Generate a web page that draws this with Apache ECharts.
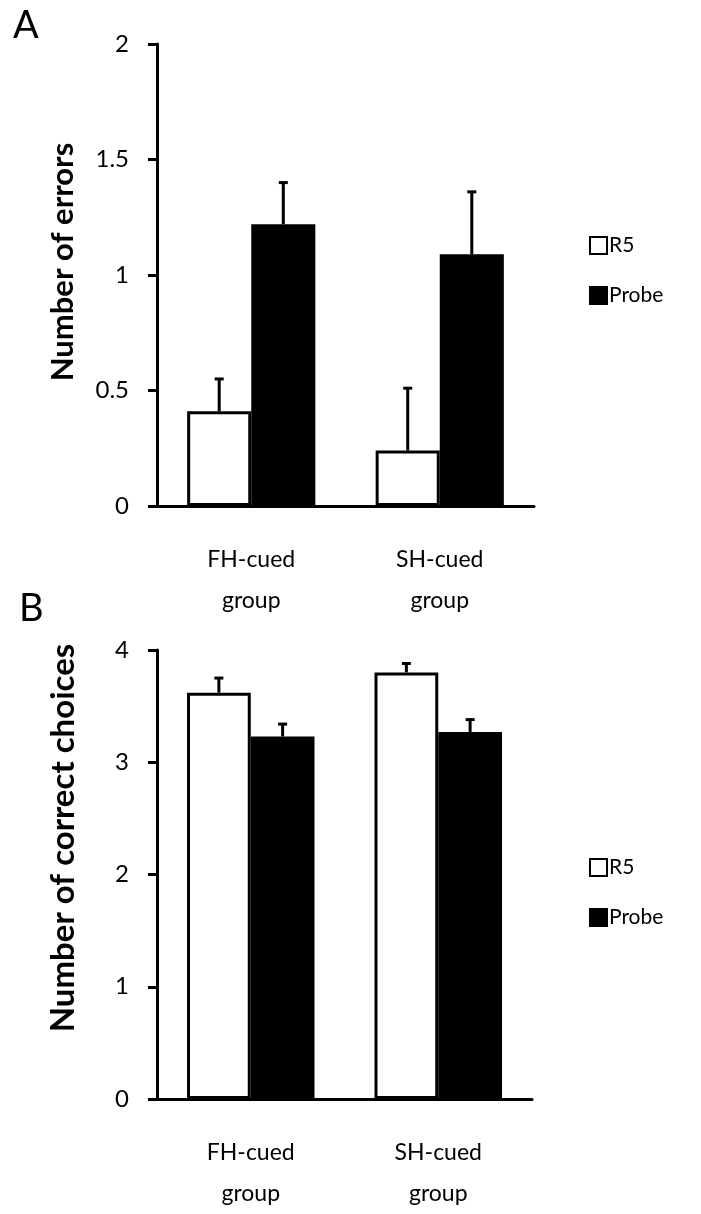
<!DOCTYPE html>
<html>
<head>
<meta charset="utf-8">
<script src="https://cdn.jsdelivr.net/npm/echarts@6/dist/echarts.min.js"></script>
<style>
html,body{margin:0;padding:0;background:#fff;}
#c{width:701px;height:1214px;}
</style>
</head>
<body>
<div id="c"></div>
<script>
const categories = ['FH-cued\ngroup', 'SH-cued\ngroup'];
const seriesNames = ['R5', 'Probe'];

const errorsR5 = [0.41, 0.24];
const errorsR5Err = [0.14, 0.27];
const errorsProbe = [1.22, 1.09];
const errorsProbeErr = [0.18, 0.27];

const correctR5 = [3.62, 3.80];
const correctR5Err = [0.13, 0.08];
const correctProbe = [3.23, 3.27];
const correctProbeErr = [0.11, 0.11];

const ticksA = { min: 0, max: 2, interval: 0.5 };
const ticksB = { min: 0, max: 4, interval: 1 };

const FONT = 'Lato';
const BAR_FRAC = 0.34;

const chart = echarts.init(document.getElementById('c'), null, { renderer: 'canvas' });

function errSeries(name, xi, yi, vals, errs, side) {
  return {
    type: 'custom',
    name: name + ' err',
    xAxisIndex: xi, yAxisIndex: yi,
    z: 5,
    silent: true,
    data: vals.map((v, i) => [i, v, errs[i]]),
    renderItem: function (params, api) {
      const c = api.value(0), v = api.value(1), e = api.value(2);
      const p0 = api.coord([c, v]);
      const p1 = api.coord([c, v + e]);
      const bw = api.size([1, 0])[0];
      const x = p0[0] + side * bw * BAR_FRAC / 2;
      const st = { stroke: '#000', lineWidth: 3 };
      return {
        type: 'group',
        children: [
          { type: 'line', shape: { x1: x, y1: p0[1], x2: x, y2: p1[1] }, style: st },
          { type: 'line', shape: { x1: x - 4.5, y1: p1[1], x2: x + 4.5, y2: p1[1] }, style: st }
        ]
      };
    }
  };
}

function xAxisDef(gi) {
  return {
    type: 'category', gridIndex: gi, data: categories,
    axisLine: { lineStyle: { color: '#000', width: 3 } },
    axisTick: { show: false },
    axisLabel: { color: '#000', fontFamily: FONT, fontSize: 23, lineHeight: 41, margin: 33, interval: 0 }
  };
}
function yAxisDef(gi, t) {
  return {
    type: 'value', gridIndex: gi, min: t.min, max: t.max, interval: t.interval,
    splitLine: { show: false },
    axisLine: { show: true, lineStyle: { color: '#000', width: 3 } },
    axisTick: { show: true, length: 9, lineStyle: { color: '#000', width: 3 } },
    axisLabel: { color: '#000', fontFamily: FONT, fontSize: 24, margin: 28 }
  };
}
function barSeries(name, xi, yi, vals, fill) {
  return {
    type: 'bar', name: name, xAxisIndex: xi, yAxisIndex: yi,
    data: vals,
    barWidth: (BAR_FRAC * 100) + '%',
    barGap: '0%',
    itemStyle: { color: fill, borderColor: '#000', borderWidth: 3 },
    emphasis: { disabled: true }
  };
}

function legendDef(top) {
  return {
    orient: 'vertical', left: 589, top: top, padding: 0, itemWidth: 17, itemHeight: 17, itemGap: 29,
    data: seriesNames, icon: 'rect', selectedMode: false,
    textStyle: { color: '#000', fontFamily: FONT, fontSize: 21, padding: [0, 0, 0, -3] }
  };
}

chart.setOption({
  animation: false,
  backgroundColor: '#fff',
  grid: [
    { left: 157, top: 44, width: 377, height: 462 },
    { left: 157, top: 650, width: 375, height: 460 }
  ],
  xAxis: [xAxisDef(0), xAxisDef(1)],
  yAxis: [yAxisDef(0, ticksA), yAxisDef(1, ticksB)],
  legend: [legendDef(235), legendDef(857)],
  graphic: [
    { type: 'text', left: 13, top: 7, style: { text: 'A', fontFamily: FONT, fontSize: 38, fill: '#000' } },
    { type: 'text', left: 19, top: 590, style: { text: 'B', fontFamily: FONT, fontSize: 38, fill: '#000' } },
    { type: 'text', x: 63, y: 262, rotation: Math.PI / 2,
      style: { text: 'Number of errors', fontFamily: FONT, fontWeight: 'bold', fontSize: 31, fill: '#000', align: 'center', verticalAlign: 'middle' } },
    { type: 'text', x: 63, y: 838, rotation: Math.PI / 2,
      style: { text: 'Number of correct choices', fontFamily: FONT, fontWeight: 'bold', fontSize: 33, fill: '#000', align: 'center', verticalAlign: 'middle' } }
  ],
  series: [
    barSeries('R5', 0, 0, errorsR5, '#fff'),
    barSeries('Probe', 0, 0, errorsProbe, '#000'),
    errSeries('R5', 0, 0, errorsR5, errorsR5Err, -1),
    errSeries('Probe', 0, 0, errorsProbe, errorsProbeErr, 1),
    barSeries('R5', 1, 1, correctR5, '#fff'),
    barSeries('Probe', 1, 1, correctProbe, '#000'),
    errSeries('R5', 1, 1, correctR5, correctR5Err, -1),
    errSeries('Probe', 1, 1, correctProbe, correctProbeErr, 1)
  ]
});
</script>
</body>
</html>
